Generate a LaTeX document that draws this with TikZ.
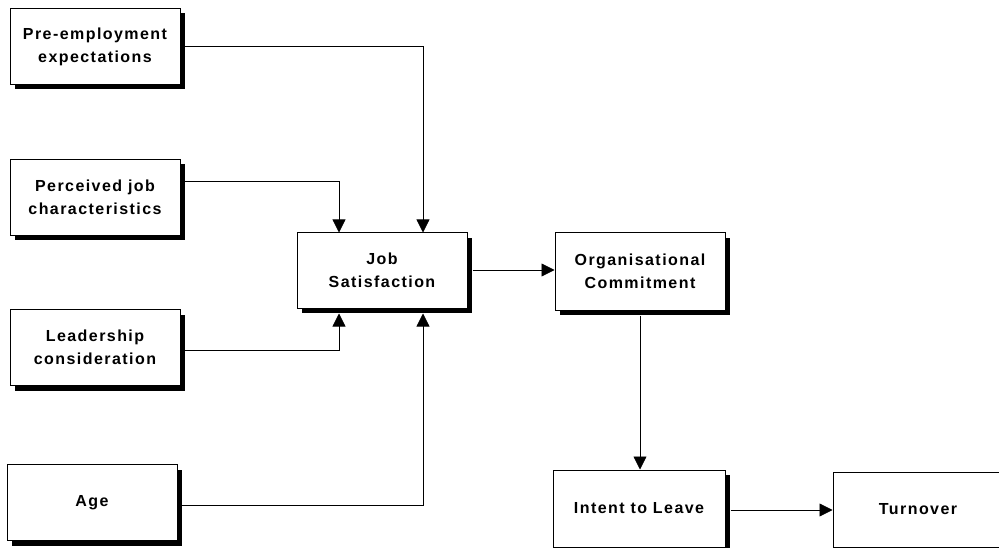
\documentclass[tikz,border=0pt]{standalone}
\usepackage{fontspec}
\setmainfont{Liberation Sans}[LetterSpace=9]
\usetikzlibrary{arrows.meta,shadows}
\begin{document}
\begin{tikzpicture}[x=1pt,y=-1pt,
  box/.style={draw=black, line width=1pt, fill=white, inner sep=0pt,
    minimum width=170pt, minimum height=76pt, align=center,
    font=\fontsize{16}{23}\selectfont\bfseries,
    drop shadow={shadow xshift=5pt, shadow yshift=-5pt, fill=black, opacity=1}},
  link/.style={draw=black, line width=0.8pt},
  tip/.style={-{Triangle[length=13pt,width=13pt]}}]
  \useasboundingbox[fill=white] (0,0) rectangle (999,548);

  % input boxes on the left
  \node[box] (pre)  at (95,46.5)  {Pre-employment\\expectations};
  \node[box] (perc) at (95,197.5) {Perceived job\\characteristics};
  \node[box] (lead) at (95,347.5) {Leadership\\consideration};
  \node[box] (age)  at (92,502.5) {Age};

  % central chain
  \node[box, minimum height=75pt] (sat) at (382,270.5) {Job\\Satisfaction};
  \node[box, minimum height=77pt] (org) at (640,271.5) {Organisational\\Commitment};
  \node[box, minimum width=172pt, minimum height=77pt] (int) at (639,508.5) {Intent to Leave};
  \node[box, minimum width=200pt, minimum height=75pt, drop shadow={opacity=0}] (turn) at (933,509.5) {\hspace*{-30pt}Turnover};

  % bend points of the connectors
  \coordinate (pre-c)  at (423,46);
  \coordinate (perc-c) at (339,181);
  \coordinate (lead-c) at (339,350);
  \coordinate (age-c)  at (423,505);

  \draw[link,tip] (pre.east |- pre-c) -- (pre-c) -- (pre-c |- sat.north);
  \draw[link,tip] (perc.east |- perc-c) -- (perc-c) -- (perc-c |- sat.north);
  \draw[link,tip] (lead.east |- lead-c) -- (lead-c) -- ([yshift=-5pt]lead-c |- sat.south);
  \draw[link,tip] (age.east |- age-c) -- (age-c) -- ([yshift=-5pt]age-c |- sat.south);

  \draw[link,tip] ([xshift=5pt]sat.east |- 0,270) -- (org.west |- 0,270);
  \draw[link,tip] ([yshift=-5pt]org.south) -- (int.north -| org.south);
  \draw[link,tip] ([xshift=5pt]int.east |- 0,510) -- (turn.west |- 0,510);
\end{tikzpicture}
\end{document}
